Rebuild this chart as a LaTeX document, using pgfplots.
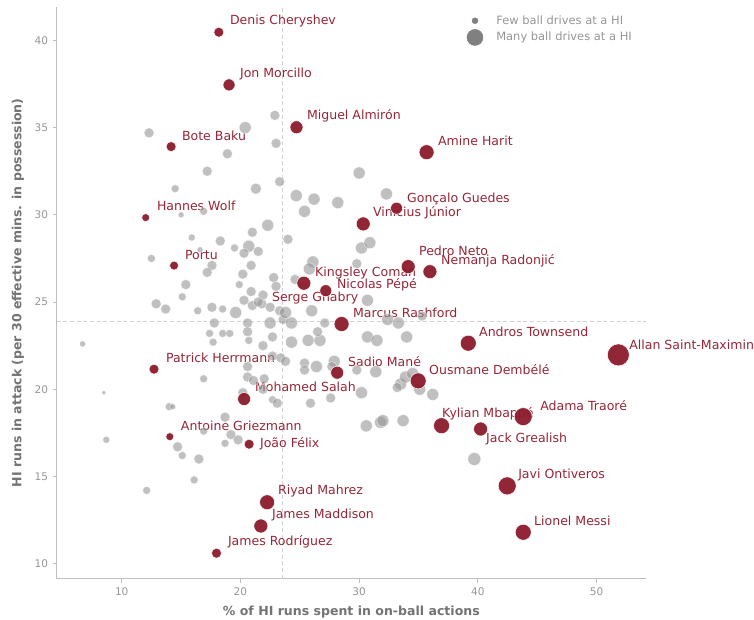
\documentclass[border=0pt]{standalone}
\usepackage{pgfplots}
\usepackage{pgfplotstable}
\pgfplotsset{compat=1.18}
\usepackage{fontspec}
\setmainfont{DejaVu Sans}

\definecolor{ptgray}{RGB}{150,150,150}
\definecolor{hired}{RGB}{139,27,43}
\definecolor{lblred}{RGB}{150,38,55}
\definecolor{tickgray}{RGB}{150,150,150}
\definecolor{labgray}{RGB}{115,115,115}
\definecolor{spinegray}{RGB}{190,190,190}
\definecolor{lgdgray}{RGB}{128,128,128}

% x = share of HI runs in on-ball actions, y = HI runs in attack, r = marker radius (px)
\pgfplotstableread{
x y r
6.7 22.6 3
8.5 19.8 2
8.7 17.1 3.5
12.1 14.2 4
12.3 34.7 5
20.4 35.0 6
22.9 35.7 5
23.0 34.1 5
18.9 33.5 5
17.2 32.5 5
14.5 31.5 4
21.3 31.5 5.5
23.3 31.9 5
24.7 31.1 6
26.2 30.9 6
25.4 30.2 6
28.2 30.7 6
30.0 32.4 6
32.3 31.2 6
15.0 30.0 3
16.9 30.2 4
22.3 29.4 6
21.0 29.0 5
18.3 28.5 5
15.9 28.7 3.5
19.5 28.1 4
20.7 28.2 6
20.3 27.8 5
21.5 27.9 5
24.0 28.6 5
30.2 28.1 6
30.9 28.4 6
12.5 27.5 4
16.6 28.0 3
17.6 27.1 5
17.2 26.7 5
20.9 27.1 5
20.2 26.6 5
26.1 27.3 6
25.8 26.9 6
29.8 27.2 5
22.8 26.4 5
24.6 26.3 5
19.9 26.0 4
15.4 26.0 5
15.1 25.3 4
12.9 24.9 5
13.7 24.6 5
16.4 24.5 4
17.6 24.7 5
18.5 24.6 4
19.6 24.4 6
20.3 25.1 5
20.9 25.6 5
21.9 25.4 5
21.8 24.9 5
21.0 24.8 5
21.5 25.0 5
22.5 24.7 5
23.3 24.5 5
23.6 24.0 5
23.0 25.9 5
23.8 24.4 6
26.0 24.5 6
30.7 25.1 6
17.8 23.8 5
17.4 23.2 4
17.7 22.7 4
18.5 23.2 4
19.1 23.2 4
20.6 23.8 5
20.6 23.3 5
20.7 22.8 4
22.5 23.8 6
22.7 23.0 5
21.9 22.5 5
22.7 21.9 5
23.4 21.8 5
23.8 21.6 5
24.3 23.8 6
24.3 22.7 6
25.7 22.8 6
26.7 22.8 6
26.5 23.3 5
27.1 23.8 5
30.7 23.0 6
31.5 22.8 6
16.9 20.6 4
20.6 21.3 5
20.6 20.7 5
21.1 20.5 5
22.0 20.6 5
21.9 20.0 5
20.2 19.8 5
25.4 21.5 5
25.4 21.1 5
26.4 21.3 6
27.9 21.6 6
27.7 21.3 5
27.6 19.5 5
25.9 19.2 5
30.2 19.8 6
29.8 21.1 5
31.4 21.0 6
22.7 19.4 4
23.1 19.2 5
14.0 19.0 4
14.3 19.0 3
18.7 18.4 5
19.2 17.4 5
19.8 17.1 5
18.7 16.9 4
16.9 17.6 4
14.7 16.7 5
15.1 16.2 4
16.5 16.0 5
16.1 14.8 4
30.6 17.9 6
31.8 18.1 6
34.0 23.0 6
32.4 24.0 6
33.3 23.8 6
35.3 24.2 5
33.5 20.3 6
33.9 20.7 6
34.5 20.9 6
35.1 20.0 6
36.2 19.7 6
33.2 20.1 5
32.0 18.2 6
33.7 18.2 6
39.7 16.0 6.5
}\others

\pgfplotstableread{
x y r
18.18 40.47 5
19.04 37.45 6
24.72 35.02 6.5
14.16 33.91 5
12.02 29.84 4
14.41 27.09 4.5
30.34 29.48 7
25.34 26.08 7
27.19 25.65 6
35.68 33.59 7.5
33.15 30.38 6
34.13 27.03 7
35.96 26.74 7
28.52 23.74 7.5
12.72 21.15 5
20.31 19.44 6.5
14.05 17.28 4
20.73 16.85 5
22.25 13.52 7.5
21.72 12.16 7
17.98 10.60 5
28.15 20.95 6.5
39.19 22.64 8
51.83 21.97 11
34.97 20.48 8
43.82 18.43 9
36.94 17.91 8
40.23 17.72 7
42.47 14.46 9
43.82 11.80 8
}\highlighted

\begin{document}
\begin{tikzpicture}
\begin{axis}[
  name=ax,
  scale only axis,
  width=442pt, height=428.8pt,
  xmin=4.52, xmax=54.16, ymin=9.14, ymax=41.92,
  axis lines*=left,
  axis line style={spinegray, line width=1pt},
  xtick={10,20,30,40,50},
  ytick={10,15,20,25,30,35,40},
  tick align=outside,
  major tick length=3pt,
  tick style={spinegray, line width=0.8pt},
  ticklabel style={font=\fontsize{7.9}{9.5}\selectfont, text=tickgray},
  /pgf/number format/assume math mode=true,
  xlabel={\% of HI runs spent in on-ball actions},
  ylabel={HI runs in attack (per 30 effective mins. in possession)},
  label style={font=\fontsize{9.4}{11}\selectfont\bfseries, text=labgray},
  every axis x label/.append style={at={(axis description cs:0.5,-0.058)}, anchor=center},
  every axis y label/.append style={at={(axis description cs:-0.0657,0.5)}, anchor=center},
  clip=false,
  legend style={at={(axis description cs:0.689,0.995)}, anchor=north west,
    draw=none, fill=none, font=\fontsize{8.6}{10}\selectfont, text=tickgray,
    row sep=0.5pt, /tikz/every odd column/.append style={column sep=8pt}},
  legend cell align=left,
]
% reference lines
\addplot[forget plot, densely dashed, spinegray!70, line width=0.5pt] coordinates {(23.57,9.14) (23.57,41.92)};
\addplot[forget plot, densely dashed, spinegray!70, line width=0.5pt] coordinates {(4.52,23.9) (54.16,23.9)};

\addplot[forget plot, scatter, only marks, mark=*,
  scatter/use mapped color={draw=white, fill=ptgray},
  visualization depends on={0.75*\thisrow{r} \as \rad},
  scatter/@pre marker code/.append style={/tikz/mark size=\rad},
  mark options={line width=0.4pt, opacity=0.6}]
  table[x=x, y=y] {\others};

\addplot[forget plot, scatter, only marks, mark=*,
  scatter/use mapped color={draw=white, fill=hired},
  visualization depends on={0.75*\thisrow{r} \as \rad},
  scatter/@pre marker code/.append style={/tikz/mark size=\rad},
  mark options={line width=0.4pt, opacity=0.95}]
  table[x=x, y=y] {\highlighted};

\addlegendimage{only marks, mark=*, mark size=2.2pt, lgdgray}
\addlegendentry{Few ball drives at a HI}
\addlegendimage{only marks, mark=*, mark size=6pt, lgdgray}
\addlegendentry{Many ball drives at a HI}

\begin{scope}[every node/.style={anchor=west, inner sep=0pt, text=lblred, font=\fontsize{9.4}{11}\selectfont}]
\node at (axis cs:19.10,41.12) {Denis Cheryshev};
\node at (axis cs:19.95,38.08) {Jon Morcillo};
\node at (axis cs:25.59,35.68) {Miguel Almirón};
\node at (axis cs:15.06,34.53) {Bote Baku};
\node at (axis cs:36.63,34.25) {Amine Harit};
\node at (axis cs:34.02,30.92) {Gonçalo Guedes};
\node at (axis cs:31.15,30.12) {Vinícius Júnior};
\node at (axis cs:12.95,30.52) {Hannes Wolf};
\node at (axis cs:15.31,27.70) {Portu};
\node at (axis cs:35.03,27.93) {Pedro Neto};
\node at (axis cs:36.89,27.36) {Nemanja Radonjić};
\node at (axis cs:26.27,26.67) {Kingsley Coman};
\node at (axis cs:28.12,25.98) {Nicolas Pépé};
\node at (axis cs:22.64,25.23) {Serge Gnabry};
\node at (axis cs:29.47,24.38) {Marcus Rashford};
\node at (axis cs:40.09,23.29) {Andros Townsend};
\node at (axis cs:52.73,22.54) {Allan Saint-Maximin};
\node at (axis cs:13.71,21.80) {Patrick Herrmann};
\node at (axis cs:29.05,21.57) {Sadio Mané};
\node at (axis cs:35.88,21.11) {Ousmane Dembélé};
\node at (axis cs:21.21,20.14) {Mohamed Salah};
\node at (axis cs:45.23,19.04) {Adama Traoré};
\node at (axis cs:36.97,18.58) {Kylian Mbappé};
\node at (axis cs:40.68,17.15) {Jack Grealish};
\node at (axis cs:14.97,17.90) {Antoine Griezmann};
\node at (axis cs:21.63,16.86) {João Félix};
\node at (axis cs:43.38,15.09) {Javi Ontiveros};
\node at (axis cs:44.72,12.45) {Lionel Messi};
\node at (axis cs:23.15,14.17) {Riyad Mahrez};
\node at (axis cs:22.64,12.79) {James Maddison};
\node at (axis cs:18.93,11.24) {James Rodríguez};
\end{scope}
\end{axis}
\pgfresetboundingbox
\path[use as bounding box] ([xshift=-42.5pt,yshift=-31pt]ax.south west) rectangle ++(565.5pt,465pt);
\end{tikzpicture}
\end{document}
